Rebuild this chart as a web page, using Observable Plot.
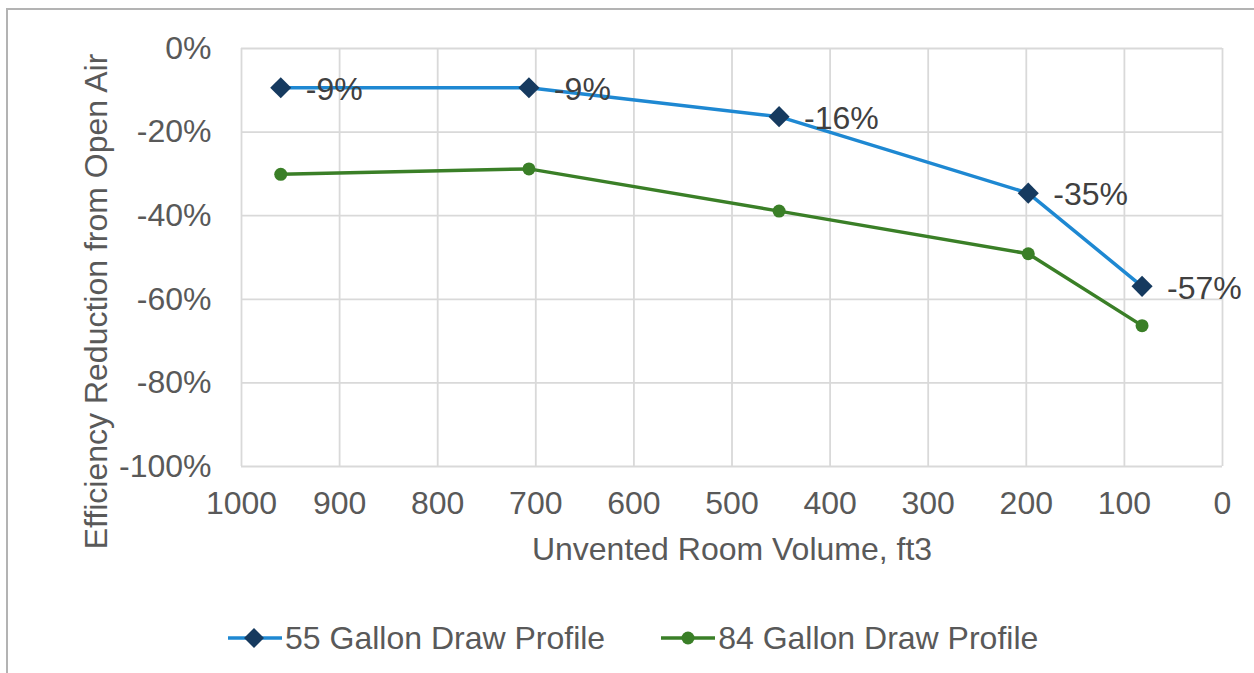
<!DOCTYPE html>
<html>
<head>
<meta charset="utf-8">
<script src="https://cdn.jsdelivr.net/npm/d3@7"></script>
<script src="https://cdn.jsdelivr.net/npm/@observablehq/plot@0.6"></script>
<style>
  body { margin: 0; background: #fff; }
  #wrap { position: relative; width: 1254px; height: 673px; overflow: hidden; background: #fff;
          font-family: "Liberation Sans", Arial, sans-serif; }
  #frame { position: absolute; left: 6px; top: 8px; width: 1270px; height: 690px;
           border: 2px solid #b3b3b3; box-sizing: border-box; }
  #chart { position: absolute; left: 0; top: 0; }
  #legend { position: absolute; left: 228px; top: 618px; height: 40px; display: flex; align-items: center;
            font-size: 32px; color: #595959; white-space: nowrap; }
  .item { display: flex; align-items: center; }
  .item svg { display: block; }
</style>
</head>
<body>
<div id="wrap">
  <div id="frame"></div>
  <div id="chart"></div>
  <div id="legend"></div>
</div>
<script>
// ---- data ----
const volumes = [960, 707, 452, 198, 82];
const gal55 = [-9.4, -9.4, -16.3, -34.6, -56.9];
const gal84 = [-30.1, -28.8, -38.9, -49.1, -66.3];
const labels55 = ["-9%", "-9%", "-16%", "-35%", "-57%"];
const seriesNames = ["55 Gallon Draw Profile", "84 Gallon Draw Profile"];
const xTicks = [1000, 900, 800, 700, 600, 500, 400, 300, 200, 100, 0];
const yTicks = [0, -20, -40, -60, -80, -100];
const xTitle = "Unvented Room Volume, ft3";
const yTitle = "Efficiency Reduction from Open Air";

const blue = "#1e88d2", navy = "#163a5f", green = "#3a7f27";
const textColor = "#595959";
const FS = 32;

const d55 = volumes.map((v, i) => ({x: v, y: gal55[i], label: labels55[i]}));
const d84 = volumes.map((v, i) => ({x: v, y: gal84[i]}));

const W = 1254, H = 600;
const chart = Plot.plot({
  width: W,
  height: H,
  marginLeft: 241,
  marginRight: 32,
  marginTop: 48,
  marginBottom: H - 466,
  style: {fontFamily: "Liberation Sans, Arial, sans-serif", fontSize: FS + "px", color: textColor, background: "transparent"},
  x: {domain: [1000, 0], ticks: xTicks},
  y: {domain: [-100, 0], ticks: yTicks},
  marks: [
    Plot.gridX(xTicks, {stroke: "#d9d9d9", strokeOpacity: 1, strokeWidth: 1.8}),
    Plot.gridY(yTicks, {stroke: "#d9d9d9", strokeOpacity: 1, strokeWidth: 1.8}),
    Plot.axisX(xTicks, {tickSize: 0, tickPadding: 25, tickFormat: d => String(d), label: null, fontSize: FS, fill: textColor}),
    Plot.axisY(yTicks, {tickSize: 0, tickPadding: 30, tickFormat: d => d + "%", label: null, fontSize: FS, fill: textColor}),
    Plot.text([xTitle], {frameAnchor: "bottom", dy: 83, lineAnchor: "middle", textAnchor: "middle", fontSize: FS, fill: textColor}),
    Plot.text([yTitle], {frameAnchor: "left", rotate: -90, dx: -145, dy: 44, lineAnchor: "middle", textAnchor: "middle", fontSize: FS, fill: textColor}),
    Plot.line(d55, {x: "x", y: "y", stroke: blue, strokeWidth: 3.5}),
    Plot.line(d84, {x: "x", y: "y", stroke: green, strokeWidth: 3.5}),
    Plot.dot(d55, {x: "x", y: "y", symbol: "diamond2", r: 9.5, fill: navy, stroke: "none"}),
    Plot.dot(d84, {x: "x", y: "y", symbol: "circle", r: 6.5, fill: green, stroke: "none"}),
    Plot.text(d55, {x: "x", y: "y", text: "label", dx: 25, dy: 2, textAnchor: "start", fontSize: FS, fill: "#404040"})
  ]
});
document.getElementById("chart").appendChild(chart);

// ---- legend ----
const legend = document.getElementById("legend");
const sw = [
  {name: seriesNames[0], stroke: blue, fill: navy, shape: "diamond"},
  {name: seriesNames[1], stroke: green, fill: green, shape: "circle"}
];
sw.forEach((s, i) => {
  const item = document.createElement("div");
  item.className = "item";
  if (i > 0) item.style.marginLeft = "56px";
  const shape = s.shape === "diamond"
    ? `<path d="M26,0 L36,10 L26,20 L16,10 Z" fill="${s.fill}"/>`
    : `<circle cx="27" cy="10" r="6.5" fill="${s.fill}"/>`;
  item.innerHTML = `<svg width="54" height="20"><line x1="0" y1="10" x2="54" y2="10" stroke="${s.stroke}" stroke-width="3.5"/>${shape}</svg><span style="margin-left:3px">${s.name}</span>`;
  legend.appendChild(item);
});
</script>
</body>
</html>
